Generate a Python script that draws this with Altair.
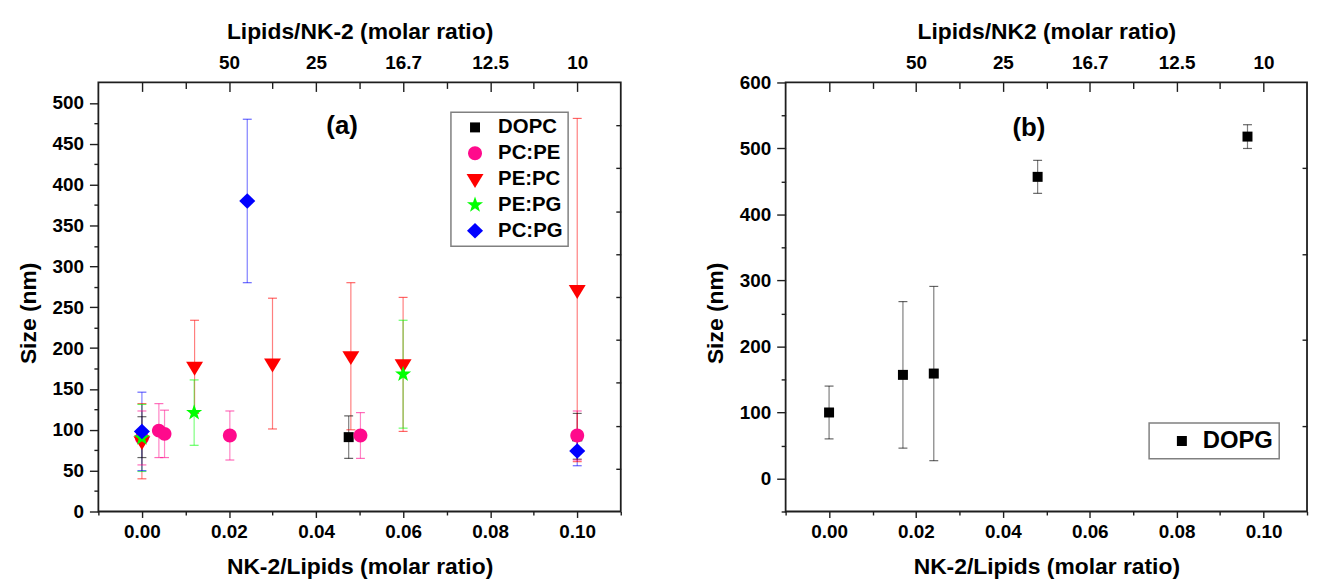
import altair as alt
import pandas as pd

FONT = "Liberation Sans"

# ---------------- Panel (a) data ----------------
series_a = ["DOPC", "PC:PE", "PE:PC", "PE:PG", "PC:PG"]

dopc_x = [0.000, 0.0475, 0.100]
dopc_y = [91, 91, 92]
dopc_err = [25, 26, 28]

pcpe_x = [0.000, 0.0039, 0.0052, 0.0202, 0.0502, 0.100]
pcpe_y = [90, 99, 95, 93, 93, 93]
pcpe_err = [33, 33, 29, 30, 28, 30]

pepc_x = [0.000, 0.0121, 0.030, 0.0480, 0.060, 0.100]
pepc_y = [86, 177, 181, 190, 180, 271]
pepc_err = [46, 57, 80, 90, 82, 210]

pepg_x = [0.000, 0.0120, 0.060]
pepg_y = [90, 121, 168]
pepg_err = [41, 40, 66]

pcpg_x = [0.000, 0.0242, 0.100]
pcpg_y = [98, 380, 74]
pcpg_err = [48, 100, 18]

# ---------------- Panel (b) data ----------------
series_b = ["DOPG"]
dopg_x = [0.000, 0.0170, 0.0241, 0.0480, 0.0963]
dopg_y = [100, 157, 159, 457, 518]
dopg_err = [40, 111, 132, 25, 18]

# top axis (Lipids/NK-2 molar ratio) labels at NK-2/Lipids positions
top_tick_values = [0.02, 0.04, 0.06, 0.08, 0.10]
top_tick_labels = ["50", "25", "16.7", "12.5", "10"]

# panel annotations (data coordinates)
panel_labels = ["(a)", "(b)"]
panel_label_x = [0.046, 0.046]
panel_label_y = [472, 531]

# ---------------- styles ----------------
colors_a = ["#000000", "#FF0A8C", "#FF0000", "#00FF00", "#0000FF"]
colors_b = ["#000000"]
SQUARE = "M-0.59,-0.59H0.59V0.59H-0.59Z"
CIRCLE = "M0.82,0A0.82,0.82,0,1,1,-0.82,0A0.82,0.82,0,1,1,0.82,0Z"
TRI_DOWN = "M-1,-0.6L1,-0.6L0,1.05Z"
STAR = ("M0,-1L0.235,-0.324L0.951,-0.309L0.38,0.124L0.588,0.809L0,0.4"
        "L-0.588,0.809L-0.38,0.124L-0.951,-0.309L-0.235,-0.324Z")
DIAMOND = "M0,-0.92L0.95,0L0,0.92L-0.95,0Z"
shapes_a = [SQUARE, CIRCLE, TRI_DOWN, STAR, DIAMOND]
shapes_b = [SQUARE]
SYM_SIZE = 290

W_A = 526
W_B = 525
H = 432
INK = "#1e1e1e"

x_tick_vals = [round(-0.01 + 0.01 * i, 2) for i in range(13)]
x_in_vals = [round(0.01 * i, 2) for i in range(11)]
X_MAJOR = "abs(datum.value*100 - 2*round(datum.value*50)) < 0.01"
X_LABEL = ("(" + X_MAJOR + " && datum.value > -0.005 && datum.value < 0.105)"
           " ? format(datum.value, '.2f') : ''")

top_expr = "''"
for v, lab in reversed(list(zip(top_tick_values, top_tick_labels))):
    top_expr = f"abs(datum.value - {v}) < 0.0005 ? '{lab}' : ({top_expr})"


def build_df(names, colors, xs, ys, es):
    rows = []
    for k, name in enumerate(names):
        for xi, yi, ei in zip(xs[k], ys[k], es[k]):
            rows.append(dict(series=name, order=k, col=colors[k], x=xi, y=yi,
                             lo=yi - ei, hi=yi + ei))
    return pd.DataFrame(rows)


def make_panel(df, series, colors, shapes, ydom, ystep_minor, ymajor, right_vals,
               top_title, legend, label_idx, title_y, W):
    xs = alt.Scale(domain=[-0.01, 0.11], nice=False, zero=False)
    ys = alt.Scale(domain=ydom, nice=False, zero=False)
    col = alt.Scale(domain=series, range=colors)
    shp = alt.Scale(domain=series, range=shapes)

    y_vals = list(range(ydom[0], ydom[1] + 1, ystep_minor))
    y_vals = [v for v in y_vals if v <= ydom[1] - 20 or v % ymajor == 0]
    y_major = f"datum.value % {ymajor} === 0"

    bottom_axis = alt.Axis(
        orient="bottom", values=x_tick_vals, labelExpr=X_LABEL,
        tickSize={"condition": {"test": X_MAJOR, "value": 6}, "value": 3.5},
        labelPadding=5, title="NK-2/Lipids (molar ratio)", titlePadding=14,
        labelFlush=False, labelOverlap=False)
    left_axis = alt.Axis(
        orient="left", values=y_vals,
        labelExpr=f"{y_major} ? datum.label : ''",
        tickSize={"condition": {"test": y_major, "value": 9}, "value": 4.5},
        labelPadding=6, title="Size (nm)", titlePadding=12, titleY=title_y,
        labelOverlap=False, labelFlush=False)
    top_axis = alt.Axis(
        orient="top", values=top_tick_values, labelExpr=top_expr, ticks=False,
        labelPadding=10, title=top_title, titlePadding=10,
        labelFlush=False, labelOverlap=False)
    top_in = alt.Axis(
        orient="bottom", offset=-H, values=x_in_vals, labels=False, title=None,
        tickSize={"condition": {"test": X_MAJOR, "value": 9}, "value": 6})
    right_in = alt.Axis(
        orient="left", offset=-W, values=right_vals, labels=False, title=None,
        tickSize=5)

    rules = alt.Chart(df).mark_rule(strokeWidth=1.2, opacity=0.5).encode(
        x=alt.X("x:Q", scale=xs, axis=bottom_axis),
        y=alt.Y("lo:Q", scale=ys, axis=left_axis),
        y2="hi:Q",
        stroke=alt.Stroke("col:N", scale=None),
    )
    caps = alt.Chart(df).transform_fold(["lo", "hi"], as_=["end", "yv"]).mark_tick(
        orient="horizontal", size=9, thickness=1.2, opacity=0.6
    ).encode(
        x=alt.X("x:Q", scale=xs, axis=top_axis),
        y=alt.Y("yv:Q", scale=ys, axis=right_in),
        fill=alt.Fill("col:N", scale=None),
    )
    pts = alt.Chart(df).mark_point(filled=True, opacity=1, size=SYM_SIZE, strokeWidth=0).encode(
        x=alt.X("x:Q", scale=xs, axis=top_in),
        y=alt.Y("y:Q", scale=ys, axis=None),
        color=alt.Color("series:N", scale=col, legend=legend),
        shape=alt.Shape("series:N", scale=shp, legend=legend),
    )
    ann_df = pd.DataFrame({"t": [panel_labels[label_idx]],
                           "x": [panel_label_x[label_idx]],
                           "y": [panel_label_y[label_idx]]})
    ann = alt.Chart(ann_df).mark_text(font=FONT, fontSize=26, fontWeight="bold",
                                      color="black").encode(
        x=alt.X("x:Q", scale=xs, axis=None),
        y=alt.Y("y:Q", scale=ys, axis=None),
        text="t:N",
    )
    return alt.layer(rules, caps, pts, ann).resolve_axis(
        x="independent", y="independent"
    ).properties(width=W, height=H)


df_a = build_df(series_a, colors_a,
                [dopc_x, pcpe_x, pepc_x, pepg_x, pcpg_x],
                [dopc_y, pcpe_y, pepc_y, pepg_y, pcpg_y],
                [dopc_err, pcpe_err, pepc_err, pepg_err, pcpg_err])
df_b = build_df(series_b, colors_b, [dopg_x], [dopg_y], [dopg_err])

legend_a = alt.Legend(title=None, orient="none", legendX=355, legendY=30,
                      labelFontSize=20.5, symbolSize=SYM_SIZE, rowPadding=5,
                      symbolOffset=9, labelOffset=13, padding=5, columnPadding=0)
legend_b = alt.Legend(title=None, orient="none", legendX=366, legendY=343,
                      labelFontSize=24, symbolSize=SYM_SIZE,
                      symbolOffset=15, labelOffset=9, padding=6, columnPadding=0)

panel_a = make_panel(df_a, series_a, colors_a, shapes_a, [0, 525], 25, 50,
                     [52.5 * k for k in range(1, 10)],
                     "Lipids/NK-2 (molar ratio)", legend_a, 0, 232, W_A)
panel_b = make_panel(df_b, series_b, colors_b, shapes_b, [-50, 600], 50, 100,
                     [80, 210, 340, 470],
                     "Lipids/NK2 (molar ratio)", legend_b, 1, 232, W_B)

chart = alt.hconcat(panel_a, panel_b, spacing=81).resolve_scale(
    x="independent", y="independent", color="independent", shape="independent"
).properties(
    padding={"left": 8, "top": 10, "right": 0, "bottom": 0}
).configure_view(
    stroke=INK, strokeWidth=1.8
).configure_axis(
    labelFont=FONT, labelFontSize=19, labelFontWeight="bold", labelColor="black",
    titleFont=FONT, titleFontSize=23, titleFontWeight="bold", titleColor="black",
    tickColor=INK, tickWidth=1.4, domain=False, grid=False
).configure_legend(
    labelFont=FONT, labelFontWeight="bold", labelColor="black",
    strokeColor="#808080", strokeWidth=1.5, fillColor="white",
    symbolStrokeWidth=0, cornerRadius=0
)

chart.save("out.html", embed_options={"renderer": "svg", "actions": False})
